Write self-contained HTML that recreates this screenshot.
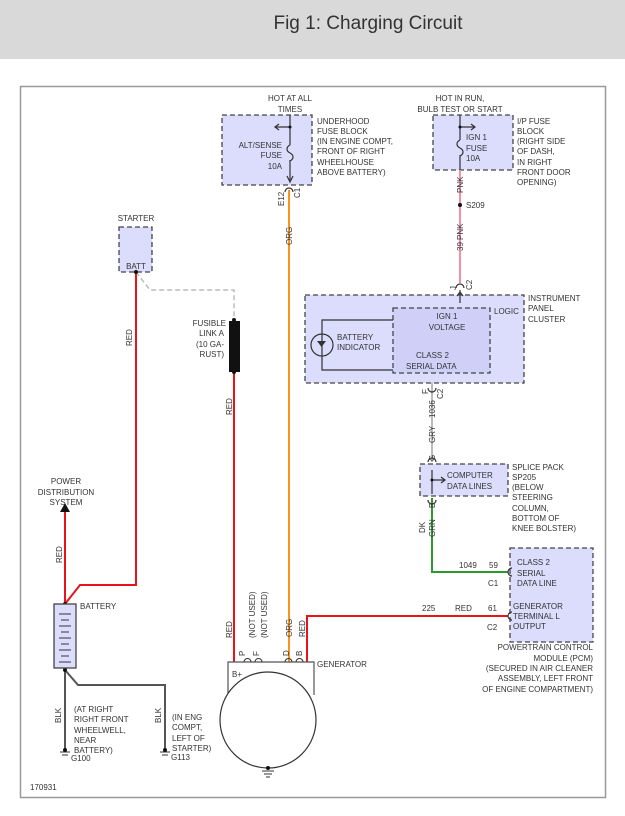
<!DOCTYPE html>
<html><head><meta charset="utf-8"><style>
body{margin:0;background:#fff;width:625px;height:811px;overflow:hidden}
svg text{font-family:"Liberation Sans",sans-serif;font-size:8px;fill:#333}
</style></head><body>
<svg width="625" height="811" viewBox="0 0 625 811" xmlns="http://www.w3.org/2000/svg">
<rect x="0" y="0" width="625" height="59" fill="#d9d9d9"/>
<text x="368" y="29" text-anchor="middle" style="font-size:19px;fill:#333">Fig 1: Charging Circuit</text>
<rect x="20.5" y="86.5" width="585" height="711" fill="none" stroke="#999" stroke-width="1.5"/>
<g stroke="#444" stroke-dasharray="5,3" stroke-width="1.3" fill="#dcdcfc">
<rect x="222" y="115" width="90" height="70"/>
<rect x="433" y="115" width="80" height="55"/>
<rect x="305" y="295" width="219" height="88"/>
<rect x="393" y="308" width="97" height="65" fill="#cfcff8"/>
<rect x="420" y="464" width="88" height="32"/>
<rect x="510" y="548" width="83" height="94"/>
<rect x="119" y="227" width="33" height="45"/>
</g>
<g fill="none" stroke-width="2">
<path d="M289 190V662" stroke="#f7931e"/>
<path d="M460 170V283" stroke="#f48fa8"/>
<path d="M432 383V462" stroke="#bbb"/>
<path d="M432 498V572H508" stroke="#2a9a2a"/>
<path d="M508 616H307V662" stroke="#e8141a"/>
<path d="M234 372V662" stroke="#e8141a"/>
<path d="M136 272V585H80L65 604" stroke="#e8141a"/>
<path d="M65 604V512" stroke="#e8141a"/>
<path d="M136 272L150 290H234V318" stroke="#bbb" stroke-dasharray="5,3" stroke-width="1.5"/>
<path d="M65 670V750M65 670L78 685H165V750" stroke="#555"/>
</g>
<path d="M60 512L65 503L70 512Z" fill="#111"/>
<g stroke="#333" fill="none" stroke-width="1.2">
<path d="M290 115V145M290 160V180M287 176L290 182L293 176"/>
<path d="M290 145c-4 2-4 6 0 8s4 6 0 8"/>
<path d="M290 127H276M279 124L275 127L279 130"/>
<path d="M460 115V140M460 155V170M460 127H474M471 124L475 127L471 130"/>
<path d="M460 140c-4 2-4 6 0 8s4 6 0 8"/>
<path d="M432 470V494M432 480H444M441 477L445 480L441 483"/>
<path d="M460 290V303M457 296L460 292L463 296"/>
<path d="M393 320H322V370H393"/>
<circle cx="322" cy="345" r="11"/>
<path d="M285 192a4 4 0 0 1 8 0M456 288a4 4 0 0 1 8 0M428 388a4 4 0 0 0 8 0M428 462a4 4 0 0 1 8 0M428 500a4 4 0 0 0 8 0M512 568a4 4 0 0 0 0 8M512 612a4 4 0 0 0 0 8"/>
</g>
<path d="M317 341h9l-4.5 6z" fill="#333"/>
<g fill="#111"><circle cx="290" cy="127" r="1.5"/><circle cx="460" cy="127" r="1.5"/><circle cx="460" cy="205" r="2"/><circle cx="432" cy="480" r="1.5"/><circle cx="136" cy="272" r="2"/><circle cx="234" cy="320" r="2"/><circle cx="234" cy="372" r="2"/><circle cx="65" cy="604" r="2"/><circle cx="65" cy="670" r="2"/></g>
<rect x="229" y="321" width="11" height="51" fill="#111"/>
<rect x="54" y="604" width="22" height="64" fill="#dcdcfc" stroke="#444" stroke-width="1.3"/>
<g stroke="#333" stroke-width="1"><path d="M59 614h12M61 620h8M59 626h12M61 632h8M59 638h12M61 644h8M59 650h12M61 656h8M59 662h12"/></g>
<path d="M228 695V662H314V695" fill="none" stroke="#555" stroke-width="1.2"/>
<circle cx="268" cy="720" r="48" fill="#fff" stroke="#333" stroke-width="1.2"/>
<g stroke="#333" fill="none"><path d="M244 662a3 3 0 0 1 7 0M255 662a3 3 0 0 1 7 0M285 662a3 3 0 0 1 7 0M296 662a3 3 0 0 1 7 0"/>
<path d="M262 771h12M264 774h8M266 777h4M60 752h10M62 755h6M160 752h10M162 755h6"/></g>
<circle cx="268" cy="768" r="2" fill="#111"/><circle cx="65" cy="750" r="2" fill="#111"/><circle cx="165" cy="750" r="2" fill="#111"/>
<text x="290" y="101" text-anchor="middle">HOT AT ALL</text><text x="290" y="112" text-anchor="middle">TIMES</text>
<text x="317" y="124">UNDERHOOD</text><text x="317" y="134">FUSE BLOCK</text><text x="317" y="144">(IN ENGINE COMPT,</text><text x="317" y="154">FRONT OF RIGHT</text><text x="317" y="165">WHEELHOUSE</text><text x="317" y="175">ABOVE BATTERY)</text>
<text x="282" y="148" text-anchor="end">ALT/SENSE</text><text x="282" y="158" text-anchor="end">FUSE</text><text x="282" y="169" text-anchor="end">10A</text>
<text x="460" y="101" text-anchor="middle">HOT IN RUN,</text><text x="460" y="112" text-anchor="middle">BULB TEST OR START</text>
<text x="466" y="140">IGN 1</text><text x="466" y="151">FUSE</text><text x="466" y="161">10A</text>
<text x="517" y="124">I/P FUSE</text><text x="517" y="134">BLOCK</text><text x="517" y="144">(RIGHT SIDE</text><text x="517" y="154">OF DASH,</text><text x="517" y="165">IN RIGHT</text><text x="517" y="175">FRONT DOOR</text><text x="517" y="185">OPENING)</text>
<text x="466" y="208">S209</text>
<text x="528" y="301">INSTRUMENT</text><text x="528" y="311">PANEL</text><text x="528" y="322">CLUSTER</text>
<text x="494" y="314">LOGIC</text><text x="447" y="319" text-anchor="middle">IGN 1</text><text x="447" y="330" text-anchor="middle">VOLTAGE</text>
<text x="337" y="340">BATTERY</text><text x="337" y="350">INDICATOR</text><text x="416" y="358">CLASS 2</text><text x="406" y="369">SERIAL DATA</text>
<text x="447" y="478">COMPUTER</text><text x="447" y="489">DATA LINES</text>
<text x="512" y="470">SPLICE PACK</text><text x="512" y="480">SP205</text><text x="512" y="490">(BELOW</text><text x="512" y="500">STEERING</text><text x="512" y="511">COLUMN,</text><text x="512" y="521">BOTTOM OF</text><text x="512" y="531">KNEE BOLSTER)</text>
<text x="517" y="565">CLASS 2</text><text x="517" y="576">SERIAL</text><text x="517" y="586">DATA LINE</text>
<text x="513" y="609">GENERATOR</text><text x="513" y="619">TERMINAL L</text><text x="513" y="629">OUTPUT</text>
<text x="459" y="568">1049</text><text x="489" y="568">59</text><text x="488" y="586">C1</text>
<text x="422" y="611">225</text><text x="455" y="611">RED</text><text x="488" y="611">61</text><text x="487" y="630">C2</text>
<text x="593" y="650" text-anchor="end">POWERTRAIN CONTROL</text><text x="593" y="661" text-anchor="end">MODULE (PCM)</text><text x="593" y="671" text-anchor="end">(SECURED IN AIR CLEANER</text><text x="593" y="681" text-anchor="end">ASSEMBLY, LEFT FRONT</text><text x="593" y="692" text-anchor="end">OF ENGINE COMPARTMENT)</text>
<text x="136" y="221" text-anchor="middle">STARTER</text><text x="136" y="269" text-anchor="middle">BATT</text>
<text x="226" y="326" text-anchor="end">FUSIBLE</text><text x="224" y="336" text-anchor="end">LINK A</text><text x="224" y="347" text-anchor="end">(10 GA-</text><text x="224" y="357" text-anchor="end">RUST)</text>
<text x="66" y="484" text-anchor="middle">POWER</text><text x="66" y="495" text-anchor="middle">DISTRIBUTION</text><text x="66" y="505" text-anchor="middle">SYSTEM</text>
<text x="80" y="609">BATTERY</text><text x="317" y="667">GENERATOR</text><text x="232" y="677">B+</text>
<text x="74" y="712">(AT RIGHT</text><text x="74" y="722">RIGHT FRONT</text><text x="74" y="733">WHEELWELL,</text><text x="74" y="743">NEAR</text><text x="74" y="753">BATTERY)</text>
<text x="172" y="720">(IN ENG</text><text x="172" y="730">COMPT,</text><text x="172" y="741">LEFT OF</text><text x="172" y="751">STARTER)</text>
<text x="71" y="761">G100</text><text x="171" y="760">G113</text><text x="30" y="790">170931</text>
<g>
<text transform="translate(284,206) rotate(-90)">E12</text><text transform="translate(300,198) rotate(-90)">C1</text>
<text transform="translate(292,245) rotate(-90)">ORG</text>
<text transform="translate(463,193) rotate(-90)">PNK</text><text transform="translate(463,240) rotate(-90)">PNK</text><text transform="translate(463,251) rotate(-90)">39</text>
<text transform="translate(456,290) rotate(-90)">J</text><text transform="translate(472,290) rotate(-90)">C2</text>
<text transform="translate(428,394) rotate(-90)">F</text><text transform="translate(443,399) rotate(-90)">C2</text>
<text transform="translate(435,418) rotate(-90)">1036</text><text transform="translate(435,443) rotate(-90)">GRY</text><text transform="translate(435,461) rotate(-90)">G</text>
<text transform="translate(435,508) rotate(-90)">B</text><text transform="translate(425,533) rotate(-90)">DK</text><text transform="translate(435,537) rotate(-90)">GRN</text>
<text transform="translate(132,346) rotate(-90)">RED</text><text transform="translate(232,415) rotate(-90)">RED</text><text transform="translate(62,563) rotate(-90)">RED</text>
<text transform="translate(232,638) rotate(-90)">RED</text><text transform="translate(255,638) rotate(-90)">(NOT USED)</text><text transform="translate(267,638) rotate(-90)">(NOT USED)</text>
<text transform="translate(292,637) rotate(-90)">ORG</text><text transform="translate(305,637) rotate(-90)">RED</text>
<text transform="translate(245,656) rotate(-90)">P</text><text transform="translate(259,656) rotate(-90)">F</text><text transform="translate(289,656) rotate(-90)">D</text><text transform="translate(302,656) rotate(-90)">B</text>
<text transform="translate(61,723) rotate(-90)">BLK</text><text transform="translate(161,723) rotate(-90)">BLK</text>
</g>
</svg>
</body></html>
